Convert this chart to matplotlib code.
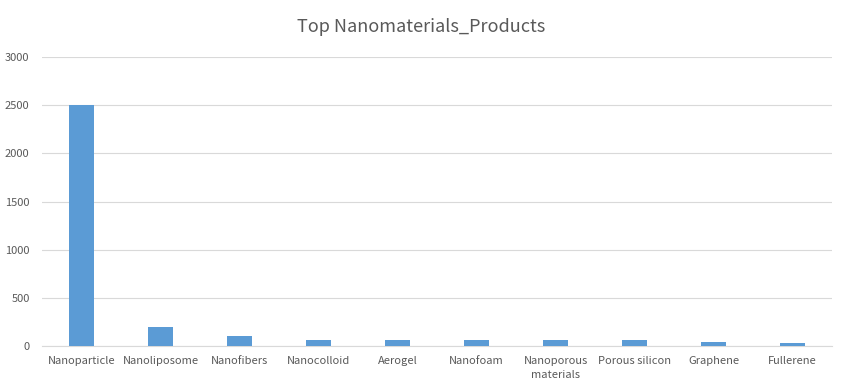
import matplotlib
matplotlib.use('Agg')
import matplotlib.pyplot as plt
import numpy as np

plt.rcParams['font.family'] = ['Noto Sans CJK KR', 'DejaVu Sans']

# Dati
categories = ['Nanoparticle', 'Nanoliposome', 'Nanofibers', 'Nanocolloid', 'Aerogel',
              'Nanofoam', 'Nanoporous\nmaterials', 'Porous silicon', 'Graphene', 'Fullerene']
values = [2500, 200, 100, 60, 60, 60, 60, 60, 40, 30]
yticks = [0, 500, 1000, 1500, 2000, 2500, 3000]

fig = plt.figure(figsize=(8.43, 3.89), dpi=100)
ax = fig.add_axes([0.05, 0.1105, 0.937, 0.7425])

x = np.arange(len(categories))
ax.bar(x, values, width=0.31, color='#5B9BD5', zorder=3)

ax.set_xlim(-0.5, len(categories) - 0.5)
ax.set_ylim(0, 3000)
ax.set_yticks(yticks)
ax.set_xticks(x)
ax.set_xticklabels(categories, fontsize=8, color='#595959', linespacing=1.5)
ax.tick_params(axis='y', labelsize=8, labelcolor='#595959', length=0, pad=9)
ax.tick_params(axis='x', length=0, pad=7)
ax.grid(axis='y', color='#D9D9D9', linewidth=0.8, zorder=0)

for s in ['top', 'right', 'left']:
    ax.spines[s].set_visible(False)
ax.spines['bottom'].set_color('#D9D9D9')

fig.text(0.5, 0.93, 'Top Nanomaterials_Products', ha='center', va='center',
         fontsize=13, color='#595959')

fig.savefig('out.png', dpi=100)
